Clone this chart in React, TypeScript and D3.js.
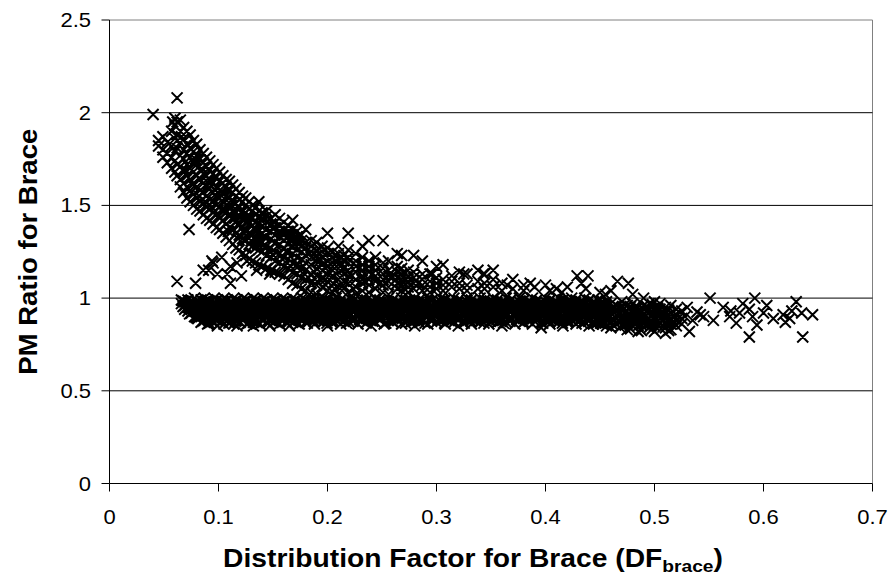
import React from 'react';
import * as d3 from 'd3';

const xTicks = [0, 0.1, 0.2, 0.3, 0.4, 0.5, 0.6, 0.7];
const yTicks = [0, 0.5, 1, 1.5, 2, 2.5];
const xTickLabels = ['0', '0.1', '0.2', '0.3', '0.4', '0.5', '0.6', '0.7'];
const yTickLabels = ['0', '0.5', '1', '1.5', '2', '2.5'];

// Upper (decaying) branch: [x, list of y values]
const upperBranch: [number, number[]][] = [
  [0.040, [1.99]],
  [0.045, [1.85, 1.82]],
  [0.049, [1.87, 1.80, 1.76]],
  [0.053, [1.84, 1.78, 1.73]],
  [0.057, [1.90, 1.82, 1.76, 1.70]],
  [0.060, [1.97, 1.93, 1.86, 1.79, 1.74, 1.68]],
  [0.062, [2.08, 1.95, 1.88, 1.81, 1.72, 1.66]],
  [0.065, [1.96, 1.90, 1.84, 1.77, 1.71, 1.64, 1.60]],
  [0.068, [1.92, 1.86, 1.80, 1.75, 1.69, 1.62, 1.57]],
  [0.071, [1.90, 1.83, 1.78, 1.72, 1.66, 1.60, 1.54]],
  [0.073, [1.37]],
  [0.074, [1.88, 1.81, 1.76, 1.70, 1.64, 1.58, 1.52]],
  [0.077, [1.85, 1.79, 1.73, 1.68, 1.62, 1.56, 1.50]],
  [0.080, [1.83, 1.77, 1.72, 1.66, 1.60, 1.54, 1.48]],
  [0.083, [1.80, 1.75, 1.69, 1.64, 1.58, 1.52, 1.47]],
  [0.086, [1.78, 1.73, 1.67, 1.62, 1.57, 1.51, 1.45]],
  [0.089, [1.76, 1.71, 1.66, 1.60, 1.55, 1.49, 1.43]],
  [0.092, [1.74, 1.69, 1.64, 1.59, 1.53, 1.48, 1.42]],
  [0.095, [1.72, 1.67, 1.62, 1.57, 1.52, 1.46, 1.40]],
  [0.098, [1.70, 1.65, 1.60, 1.55, 1.50, 1.45, 1.38]],
  [0.101, [1.68, 1.63, 1.58, 1.54, 1.49, 1.43, 1.37]],
  [0.104, [1.66, 1.62, 1.57, 1.52, 1.47, 1.42, 1.35]],
  [0.107, [1.64, 1.60, 1.55, 1.50, 1.46, 1.40, 1.33]],
  [0.110, [1.63, 1.58, 1.54, 1.49, 1.44, 1.38, 1.31]],
  [0.113, [1.61, 1.57, 1.52, 1.47, 1.43, 1.37, 1.29]],
  [0.116, [1.59, 1.55, 1.51, 1.46, 1.41, 1.35, 1.27]],
  [0.119, [1.57, 1.53, 1.49, 1.44, 1.40, 1.34, 1.26]],
  [0.122, [1.55, 1.52, 1.47, 1.43, 1.38, 1.32, 1.24]],
  [0.125, [1.54, 1.50, 1.46, 1.41, 1.37, 1.31, 1.23]],
  [0.128, [1.52, 1.48, 1.44, 1.40, 1.35, 1.29, 1.21]],
  [0.131, [1.50, 1.47, 1.43, 1.39, 1.34, 1.28, 1.20]],
  [0.134, [1.49, 1.45, 1.41, 1.37, 1.33, 1.27, 1.19]],
  [0.137, [1.52, 1.47, 1.44, 1.40, 1.36, 1.31, 1.26, 1.18]],
  [0.140, [1.46, 1.43, 1.39, 1.35, 1.30, 1.25, 1.17]],
  [0.144, [1.47, 1.44, 1.41, 1.37, 1.33, 1.28, 1.23, 1.16]],
  [0.148, [1.43, 1.40, 1.36, 1.32, 1.27, 1.22, 1.15]],
  [0.152, [1.45, 1.41, 1.38, 1.34, 1.30, 1.25, 1.20, 1.14]],
  [0.156, [1.43, 1.39, 1.36, 1.33, 1.29, 1.24, 1.19, 1.13]],
  [0.160, [1.41, 1.37, 1.34, 1.31, 1.27, 1.22, 1.17, 1.12]],
  [0.164, [1.39, 1.36, 1.33, 1.29, 1.25, 1.21, 1.16, 1.10]],
  [0.168, [1.42, 1.37, 1.34, 1.31, 1.28, 1.24, 1.19, 1.14, 1.08]],
  [0.172, [1.36, 1.33, 1.30, 1.26, 1.22, 1.18, 1.13, 1.07]],
  [0.176, [1.34, 1.31, 1.28, 1.25, 1.21, 1.16, 1.11, 1.05]],
  [0.180, [1.37, 1.30, 1.27, 1.23, 1.19, 1.15, 1.10, 1.04]],
  [0.185, [1.31, 1.28, 1.25, 1.22, 1.18, 1.13, 1.08, 1.03]],
  [0.190, [1.30, 1.26, 1.23, 1.20, 1.16, 1.12, 1.07, 1.02]],
  [0.195, [1.28, 1.25, 1.22, 1.18, 1.15, 1.11, 1.06, 1.01]],
  [0.200, [1.35, 1.27, 1.24, 1.20, 1.17, 1.13, 1.09, 1.04]],
  [0.205, [1.25, 1.22, 1.19, 1.15, 1.12, 1.08, 1.03]],
  [0.210, [1.28, 1.24, 1.21, 1.18, 1.14, 1.10, 1.06, 1.02]],
  [0.215, [1.23, 1.20, 1.16, 1.13, 1.09, 1.05]],
  [0.219, [1.35, 1.26, 1.22, 1.19, 1.15, 1.12, 1.08, 1.03]],
  [0.226, [1.24, 1.20, 1.17, 1.14, 1.10, 1.06, 1.02]],
  [0.232, [1.28, 1.22, 1.18, 1.15, 1.12, 1.08, 1.04]],
  [0.238, [1.31, 1.20, 1.17, 1.14, 1.10, 1.07, 1.03]],
  [0.244, [1.22, 1.18, 1.15, 1.12, 1.09, 1.05]],
  [0.251, [1.31, 1.19, 1.16, 1.13, 1.10, 1.07, 1.03]],
  [0.256, [1.20, 1.15, 1.12, 1.09, 1.06, 1.02]],
  [0.264, [1.24, 1.17, 1.14, 1.11, 1.08, 1.05]],
  [0.268, [1.23, 1.16, 1.13, 1.10, 1.07, 1.04]],
  [0.274, [1.15, 1.12, 1.09, 1.06, 1.03]],
  [0.279, [1.23, 1.14, 1.11, 1.08, 1.05]],
  [0.287, [1.20, 1.13, 1.10, 1.07, 1.04]],
  [0.294, [1.13, 1.09, 1.06, 1.03]],
  [0.300, [1.17, 1.11, 1.08, 1.05]],
  [0.306, [1.18, 1.10, 1.07, 1.04]],
  [0.314, [1.12, 1.09, 1.06]],
  [0.321, [1.14, 1.08, 1.05]],
  [0.328, [1.13, 1.07, 1.04]],
  [0.338, [1.15, 1.09, 1.05]],
  [0.344, [1.13, 1.08, 1.05]],
  [0.352, [1.15, 1.10, 1.06]],
  [0.360, [1.08, 1.04]],
  [0.370, [1.10, 1.05]],
  [0.380, [1.07, 1.04]],
];

// Extra irregular points inside the upper branch
const upperExtra: [number, number][] = [
  [0.058, 1.95], [0.066, 1.87], [0.070, 1.69], [0.076, 1.61], [0.079, 1.75],
  [0.082, 1.55], [0.085, 1.70], [0.088, 1.52], [0.091, 1.62], [0.094, 1.49],
  [0.097, 1.58], [0.100, 1.44], [0.103, 1.55], [0.106, 1.48], [0.109, 1.36],
  [0.112, 1.50], [0.115, 1.43], [0.118, 1.32], [0.121, 1.46], [0.124, 1.35],
  [0.127, 1.42], [0.130, 1.31], [0.133, 1.38], [0.136, 1.29], [0.139, 1.42],
  [0.142, 1.33], [0.146, 1.26], [0.150, 1.38], [0.154, 1.28], [0.158, 1.35],
  [0.162, 1.25], [0.166, 1.31], [0.170, 1.20], [0.174, 1.29], [0.178, 1.17],
  [0.183, 1.24], [0.188, 1.14], [0.193, 1.20], [0.198, 1.10], [0.203, 1.16],
  [0.208, 1.09], [0.213, 1.18], [0.222, 1.12], [0.229, 1.16], [0.235, 1.09],
  [0.241, 1.13], [0.248, 1.08], [0.259, 1.12], [0.271, 1.10], [0.283, 1.08],
  [0.1185, 1.39], [0.1265, 1.33], [0.1345, 1.31], [0.1425, 1.27], [0.1505, 1.23],
  [0.1585, 1.21], [0.1665, 1.17], [0.1745, 1.15], [0.1825, 1.11], [0.1905, 1.09],
  [0.1985, 1.07], [0.2065, 1.05], [0.2145, 1.07], [0.2235, 1.05], [0.2315, 1.10],
];

// Scattered points between the two branches on the left
const gapPoints: [number, number][] = [
  [0.062, 1.09], [0.079, 1.08], [0.086, 1.15], [0.091, 1.15], [0.094, 1.20],
  [0.095, 1.19], [0.099, 1.13], [0.108, 1.13], [0.111, 1.17], [0.111, 1.08],
  [0.117, 1.19], [0.126, 1.20], [0.135, 1.15], [0.147, 1.13], [0.103, 1.22],
  [0.121, 1.12],
];

// Lower horizontal band: [x, list of y values]
const lowerBand: [number, number[]][] = [
  [0.066, [0.99, 0.97]],
  [0.069, [0.98, 0.96, 0.94]],
  [0.072, [0.99, 0.97, 0.95, 0.93]],
  [0.075, [0.98, 0.96, 0.94, 0.92]],
  [0.078, [1.00, 0.97, 0.95, 0.93, 0.90]],
  [0.081, [0.98, 0.96, 0.94, 0.91, 0.89]],
  [0.084, [0.99, 0.97, 0.95, 0.92, 0.90, 0.87]],
  [0.087, [1.00, 0.98, 0.96, 0.93, 0.91, 0.88]],
  [0.090, [0.99, 0.97, 0.94, 0.92, 0.89, 0.86]],
  [0.093, [0.98, 0.96, 0.95, 0.93, 0.90, 0.88]],
  [0.096, [1.00, 0.97, 0.95, 0.92, 0.90, 0.87]],
  [0.099, [0.99, 0.96, 0.94, 0.93, 0.91, 0.88, 0.85]],
  [0.102, [0.98, 0.97, 0.95, 0.92, 0.90, 0.87]],
  [0.105, [1.00, 0.98, 0.96, 0.93, 0.91, 0.89, 0.86]],
  [0.108, [0.99, 0.96, 0.94, 0.92, 0.90, 0.88]],
  [0.111, [0.98, 0.97, 0.95, 0.93, 0.91, 0.87]],
  [0.114, [1.00, 0.97, 0.95, 0.92, 0.89, 0.86]],
  [0.117, [0.99, 0.96, 0.94, 0.93, 0.90, 0.88, 0.85]],
  [0.120, [0.98, 0.97, 0.95, 0.92, 0.91, 0.87]],
  [0.123, [1.00, 0.98, 0.96, 0.94, 0.91, 0.89]],
  [0.126, [0.99, 0.96, 0.94, 0.92, 0.90, 0.86]],
  [0.129, [0.98, 0.97, 0.95, 0.93, 0.90, 0.88]],
  [0.132, [1.00, 0.97, 0.95, 0.92, 0.89, 0.87, 0.85]],
  [0.135, [0.99, 0.96, 0.94, 0.93, 0.91, 0.88]],
  [0.138, [0.98, 0.97, 0.95, 0.92, 0.90, 0.86]],
  [0.141, [1.00, 0.98, 0.96, 0.94, 0.91, 0.89]],
  [0.144, [0.99, 0.96, 0.94, 0.92, 0.90, 0.87]],
  [0.147, [0.98, 0.97, 0.95, 0.93, 0.91, 0.88, 0.85]],
  [0.150, [1.00, 0.97, 0.95, 0.92, 0.90, 0.87]],
  [0.153, [0.99, 0.96, 0.94, 0.93, 0.91, 0.88]],
  [0.156, [0.98, 0.97, 0.95, 0.92, 0.89, 0.86]],
  [0.159, [1.00, 0.98, 0.96, 0.94, 0.91, 0.89]],
  [0.162, [0.99, 0.96, 0.94, 0.92, 0.90, 0.87]],
  [0.165, [0.98, 0.97, 0.95, 0.93, 0.90, 0.88, 0.85]],
  [0.168, [1.00, 0.97, 0.95, 0.92, 0.91, 0.87]],
  [0.171, [0.99, 0.96, 0.94, 0.93, 0.90, 0.88]],
  [0.174, [0.98, 0.97, 0.95, 0.92, 0.89, 0.86]],
  [0.177, [1.00, 0.98, 0.96, 0.94, 0.91, 0.89]],
  [0.180, [0.99, 0.96, 0.94, 0.92, 0.90, 0.87]],
  [0.184, [1.00, 0.97, 0.95, 0.93, 0.90, 0.88]],
  [0.188, [0.99, 0.96, 0.94, 0.92, 0.89, 0.86]],
  [0.192, [0.98, 0.97, 0.95, 0.93, 0.91, 0.88]],
  [0.196, [1.00, 0.97, 0.94, 0.92, 0.90, 0.87]],
  [0.200, [0.99, 0.96, 0.95, 0.93, 0.90, 0.88, 0.85]],
  [0.204, [0.98, 0.97, 0.94, 0.92, 0.91, 0.87]],
  [0.208, [1.00, 0.98, 0.95, 0.93, 0.90, 0.88]],
  [0.212, [0.99, 0.96, 0.94, 0.92, 0.89, 0.86]],
  [0.216, [0.98, 0.97, 0.95, 0.93, 0.91, 0.88]],
  [0.220, [1.00, 0.97, 0.95, 0.92, 0.90, 0.87]],
  [0.224, [0.99, 0.96, 0.94, 0.93, 0.90, 0.88]],
  [0.228, [0.98, 0.97, 0.95, 0.92, 0.91, 0.86]],
  [0.232, [1.00, 0.98, 0.96, 0.93, 0.90, 0.88]],
  [0.236, [0.99, 0.96, 0.94, 0.92, 0.89, 0.87]],
  [0.240, [0.98, 0.97, 0.95, 0.93, 0.91, 0.88, 0.85]],
  [0.244, [1.00, 0.97, 0.94, 0.92, 0.90, 0.87]],
  [0.248, [0.99, 0.96, 0.95, 0.93, 0.90, 0.88]],
  [0.252, [0.98, 0.97, 0.94, 0.92, 0.91, 0.86]],
  [0.256, [1.00, 0.98, 0.95, 0.93, 0.90, 0.88]],
  [0.260, [0.99, 0.96, 0.94, 0.92, 0.89, 0.87]],
  [0.264, [0.98, 0.97, 0.95, 0.93, 0.91, 0.88]],
  [0.268, [1.00, 0.97, 0.95, 0.92, 0.90, 0.86]],
  [0.272, [0.99, 0.96, 0.94, 0.93, 0.90, 0.88]],
  [0.276, [0.98, 0.97, 0.95, 0.92, 0.91, 0.87]],
  [0.280, [1.00, 0.98, 0.96, 0.93, 0.90, 0.88, 0.85]],
  [0.284, [0.99, 0.96, 0.94, 0.92, 0.89, 0.87]],
  [0.288, [0.98, 0.97, 0.95, 0.93, 0.91, 0.88]],
  [0.292, [1.00, 0.97, 0.94, 0.92, 0.90, 0.86]],
  [0.296, [0.99, 0.96, 0.95, 0.93, 0.90, 0.88]],
  [0.300, [0.98, 0.97, 0.94, 0.92, 0.91, 0.87]],
  [0.304, [1.00, 0.98, 0.95, 0.93, 0.90, 0.88]],
  [0.308, [0.99, 0.96, 0.94, 0.92, 0.89, 0.86]],
  [0.312, [0.98, 0.97, 0.95, 0.93, 0.91, 0.88]],
  [0.316, [1.00, 0.97, 0.95, 0.92, 0.90, 0.87]],
  [0.320, [0.99, 0.96, 0.94, 0.93, 0.90, 0.88, 0.85]],
  [0.324, [0.98, 0.97, 0.95, 0.92, 0.91, 0.87]],
  [0.328, [1.00, 0.98, 0.96, 0.93, 0.90, 0.88]],
  [0.332, [0.99, 0.96, 0.94, 0.92, 0.89, 0.86]],
  [0.336, [0.98, 0.97, 0.95, 0.93, 0.91, 0.88]],
  [0.340, [1.00, 0.97, 0.94, 0.92, 0.90, 0.87]],
  [0.344, [0.99, 0.96, 0.95, 0.93, 0.90, 0.88]],
  [0.348, [0.98, 0.97, 0.94, 0.92, 0.91, 0.86]],
  [0.352, [1.00, 0.98, 0.95, 0.93, 0.90, 0.88]],
  [0.356, [0.99, 0.96, 0.94, 0.92, 0.89, 0.87]],
  [0.360, [0.98, 0.97, 0.95, 0.93, 0.91, 0.88, 0.85]],
  [0.364, [1.00, 0.97, 0.95, 0.92, 0.90, 0.87]],
  [0.368, [0.99, 0.96, 0.94, 0.93, 0.90, 0.88]],
  [0.372, [0.98, 0.97, 0.95, 0.92, 0.91, 0.86]],
  [0.376, [1.00, 0.98, 0.96, 0.93, 0.90, 0.88]],
  [0.380, [0.99, 0.96, 0.94, 0.92, 0.89, 0.87]],
  [0.384, [0.98, 0.97, 0.95, 0.93, 0.91, 0.88]],
  [0.388, [1.00, 0.97, 0.94, 0.92, 0.90, 0.86]],
  [0.392, [0.99, 0.96, 0.95, 0.93, 0.90, 0.88]],
  [0.396, [0.98, 0.97, 0.94, 0.92, 0.91, 0.87, 0.84]],
  [0.400, [1.00, 0.98, 0.95, 0.93, 0.90, 0.88]],
  [0.404, [0.99, 0.96, 0.94, 0.92, 0.89, 0.86]],
  [0.408, [0.98, 0.97, 0.95, 0.93, 0.91, 0.88]],
  [0.412, [1.00, 0.97, 0.95, 0.92, 0.90, 0.87]],
  [0.416, [0.99, 0.96, 0.94, 0.93, 0.90, 0.88, 0.85]],
  [0.420, [0.98, 0.97, 0.95, 0.92, 0.91, 0.87]],
  [0.424, [1.00, 0.98, 0.96, 0.93, 0.90, 0.88]],
  [0.428, [0.99, 0.96, 0.94, 0.92, 0.89, 0.86]],
  [0.432, [0.98, 0.97, 0.95, 0.93, 0.91, 0.88]],
  [0.436, [1.00, 0.97, 0.94, 0.92, 0.90, 0.87]],
  [0.440, [0.99, 0.96, 0.95, 0.93, 0.90, 0.88, 0.85]],
  [0.444, [0.98, 0.97, 0.94, 0.92, 0.91, 0.86]],
  [0.448, [0.99, 0.96, 0.94, 0.92, 0.89, 0.87]],
  [0.452, [0.97, 0.95, 0.93, 0.91, 0.88, 0.86]],
  [0.456, [0.98, 0.96, 0.93, 0.90, 0.88, 0.85]],
  [0.460, [0.97, 0.94, 0.92, 0.90, 0.87, 0.84]],
  [0.465, [0.96, 0.94, 0.91, 0.89, 0.86]],
  [0.470, [0.98, 0.95, 0.93, 0.90, 0.88, 0.85]],
  [0.475, [0.96, 0.93, 0.91, 0.88, 0.86, 0.83]],
  [0.480, [0.97, 0.94, 0.92, 0.89, 0.87]],
  [0.485, [0.95, 0.93, 0.90, 0.88, 0.85, 0.82]],
  [0.490, [0.96, 0.94, 0.91, 0.89, 0.86]],
  [0.495, [0.97, 0.94, 0.92, 0.89, 0.87, 0.84]],
  [0.500, [0.98, 0.95, 0.93, 0.90, 0.88, 0.85, 0.82]],
  [0.505, [0.97, 0.94, 0.91, 0.89, 0.86]],
  [0.510, [0.95, 0.93, 0.90, 0.87, 0.84, 0.81]],
  [0.515, [0.96, 0.92, 0.89, 0.86, 0.83]],
  [0.520, [0.94, 0.91, 0.88, 0.85]],
  [0.525, [0.93, 0.89, 0.86]],
];

// Second layer of the lower band, between the first layer's points
const lowerBandFill: [number, number[]][] = [
  [0.0675, [0.985, 0.955]],
  [0.0735, [0.975, 0.945, 0.915]],
  [0.0795, [0.985, 0.955, 0.925, 0.895]],
  [0.0855, [0.965, 0.935, 0.905, 0.875]],
  [0.0915, [0.985, 0.955, 0.925, 0.895, 0.865]],
  [0.0975, [0.975, 0.945, 0.915, 0.885]],
  [0.1035, [0.985, 0.955, 0.925, 0.895, 0.875]],
  [0.1095, [0.965, 0.935, 0.905, 0.865]],
  [0.1155, [0.985, 0.955, 0.925, 0.895, 0.875]],
  [0.1215, [0.975, 0.945, 0.915, 0.885]],
  [0.1275, [0.965, 0.935, 0.905, 0.865]],
  [0.1335, [0.985, 0.955, 0.925, 0.895, 0.875]],
  [0.1395, [0.975, 0.945, 0.915, 0.885]],
  [0.1455, [0.965, 0.935, 0.905, 0.865]],
  [0.1515, [0.985, 0.955, 0.925, 0.895, 0.875]],
  [0.1575, [0.975, 0.945, 0.915, 0.885]],
  [0.1635, [0.965, 0.935, 0.905, 0.865]],
  [0.1695, [0.985, 0.955, 0.925, 0.895, 0.875]],
  [0.1755, [0.975, 0.945, 0.915, 0.885]],
  [0.1815, [0.965, 0.935, 0.905, 0.865]],
  [0.1875, [0.985, 0.955, 0.925, 0.895, 0.875]],
  [0.1935, [0.975, 0.945, 0.915, 0.885]],
  [0.1995, [0.965, 0.935, 0.905, 0.865]],
  [0.2055, [0.985, 0.955, 0.925, 0.895, 0.875]],
  [0.2115, [0.975, 0.945, 0.915, 0.885]],
  [0.2175, [0.965, 0.935, 0.905, 0.865]],
  [0.2235, [0.985, 0.955, 0.925, 0.895, 0.875]],
  [0.2295, [0.975, 0.945, 0.915, 0.885]],
  [0.2355, [0.965, 0.935, 0.905, 0.865]],
  [0.2415, [0.985, 0.955, 0.925, 0.895, 0.875]],
  [0.2475, [0.975, 0.945, 0.915, 0.885]],
  [0.2535, [0.965, 0.935, 0.905, 0.865]],
  [0.2595, [0.985, 0.955, 0.925, 0.895, 0.875]],
  [0.2655, [0.975, 0.945, 0.915, 0.885]],
  [0.2715, [0.965, 0.935, 0.905, 0.865]],
  [0.2775, [0.985, 0.955, 0.925, 0.895, 0.875]],
  [0.2835, [0.975, 0.945, 0.915, 0.885]],
  [0.2895, [0.965, 0.935, 0.905, 0.865]],
  [0.2955, [0.985, 0.955, 0.925, 0.895, 0.875]],
  [0.3015, [0.975, 0.945, 0.915, 0.885]],
  [0.3075, [0.965, 0.935, 0.905, 0.865]],
  [0.3135, [0.985, 0.955, 0.925, 0.895, 0.875]],
  [0.3195, [0.975, 0.945, 0.915, 0.885]],
  [0.3255, [0.965, 0.935, 0.905, 0.865]],
  [0.3315, [0.985, 0.955, 0.925, 0.895, 0.875]],
  [0.3375, [0.975, 0.945, 0.915, 0.885]],
  [0.3435, [0.965, 0.935, 0.905, 0.865]],
  [0.3495, [0.985, 0.955, 0.925, 0.895, 0.875]],
  [0.3555, [0.975, 0.945, 0.915, 0.885]],
  [0.3615, [0.965, 0.935, 0.905, 0.865]],
  [0.3675, [0.985, 0.955, 0.925, 0.895, 0.875]],
  [0.3735, [0.975, 0.945, 0.915, 0.885]],
  [0.3795, [0.965, 0.935, 0.905, 0.865]],
  [0.3855, [0.985, 0.955, 0.925, 0.895, 0.875]],
  [0.3915, [0.975, 0.945, 0.915, 0.885]],
  [0.3975, [0.965, 0.935, 0.905, 0.865]],
  [0.4035, [0.985, 0.955, 0.925, 0.895, 0.875]],
  [0.4095, [0.975, 0.945, 0.915, 0.885]],
  [0.4155, [0.965, 0.935, 0.905, 0.865]],
  [0.4215, [0.985, 0.955, 0.925, 0.895, 0.875]],
  [0.4275, [0.975, 0.945, 0.915, 0.885]],
  [0.4335, [0.965, 0.935, 0.905, 0.865]],
  [0.4395, [0.985, 0.955, 0.925, 0.895, 0.875]],
  [0.4455, [0.975, 0.945, 0.915, 0.885]],
  [0.4505, [0.965, 0.935, 0.905, 0.865]],
  [0.455, [0.965, 0.935, 0.895, 0.865]],
  [0.462, [0.955, 0.925, 0.885, 0.855]],
  [0.468, [0.945, 0.915, 0.875, 0.845]],
  [0.473, [0.965, 0.925, 0.895, 0.855]],
  [0.478, [0.955, 0.905, 0.865, 0.835]],
  [0.483, [0.945, 0.915, 0.875]],
  [0.488, [0.935, 0.895, 0.855, 0.825]],
  [0.493, [0.955, 0.925, 0.875]],
  [0.498, [0.965, 0.915, 0.865, 0.835]],
  [0.503, [0.945, 0.905, 0.855]],
  [0.508, [0.925, 0.885, 0.845]],
  [0.513, [0.935, 0.875, 0.825]],
  [0.518, [0.905, 0.865]],
];

// Scattered points above the band in the middle
const upperOutliers: [number, number][] = [
  [0.296, 1.13], [0.325, 1.13], [0.343, 1.13], [0.365, 1.07], [0.370, 1.10],
  [0.386, 1.08], [0.390, 1.06], [0.400, 1.07], [0.404, 1.04], [0.410, 1.05],
  [0.415, 1.03], [0.420, 1.06], [0.429, 1.12], [0.433, 1.08], [0.437, 1.05],
  [0.439, 1.12], [0.450, 1.03], [0.455, 1.02], [0.460, 1.04], [0.466, 1.09],
  [0.476, 1.08], [0.480, 1.02], [0.490, 1.00],
];

// Sparse tail on the right
const tailPoints: [number, number][] = [
  [0.528, 0.90], [0.530, 0.95], [0.532, 0.82], [0.535, 0.88], [0.539, 0.925],
  [0.542, 0.91], [0.545, 0.90], [0.551, 1.00], [0.554, 0.88], [0.563, 0.95],
  [0.569, 0.90], [0.570, 0.93], [0.575, 0.865], [0.578, 0.92], [0.581, 0.97],
  [0.587, 0.94], [0.587, 0.79], [0.590, 0.90], [0.592, 1.00], [0.594, 0.855],
  [0.600, 0.92], [0.603, 0.96], [0.609, 0.89], [0.618, 0.91], [0.620, 0.87],
  [0.624, 0.89], [0.626, 0.93], [0.630, 0.98], [0.635, 0.92], [0.636, 0.79],
  [0.645, 0.91],
];

const FONT = '"Liberation Sans", Arial, sans-serif';

export default function App() {
  const W = 894;
  const H = 581;
  const x = d3.scaleLinear().domain([0, 0.7]).range([109.5, 872.5]);
  const y = d3.scaleLinear().domain([0, 2.5]).range([483.5, 20]);

  const points: [number, number][] = [];
  for (const [cx, ys] of upperBranch) for (const v of ys) points.push([cx, v]);
  for (const p of upperExtra) points.push(p);
  for (const p of gapPoints) points.push(p);
  for (const [cx, ys] of lowerBand) for (const v of ys) points.push([cx, v]);
  for (const [cx, ys] of lowerBandFill) for (const v of ys) points.push([cx, v]);
  for (const p of upperOutliers) points.push(p);
  for (const p of tailPoints) points.push(p);

  const s = 5.5;
  const markerPath = points
    .map(([a, b]) => {
      const px = x(a);
      const py = y(b);
      return `M${px - s},${py - s}L${px + s},${py + s}M${px - s},${py + s}L${px + s},${py - s}`;
    })
    .join('');

  const [x0, x1] = x.range();
  const [y0, y1] = y.range();

  return (
    <svg width={W} height={H} style={{ position: 'absolute', left: 0, top: 0, background: '#fff' }}>
      <rect x={0} y={0} width={W} height={H} fill="#fff" />
      <line x1={x0} x2={x1} y1={y1} y2={y1} stroke="#808080" strokeWidth={1} />
      <line x1={x1} x2={x1} y1={y1} y2={y0} stroke="#808080" strokeWidth={1} />
      {yTicks.filter((t) => t > 0 && t < 2.5).map((t) => (
        <line key={t} x1={x0} x2={x1} y1={y(t)} y2={y(t)} stroke="#000" strokeWidth={1} />
      ))}
      <path d={markerPath} stroke="#000" strokeWidth={2} fill="none" />
      <line x1={x0} x2={x0} y1={y1} y2={y0} stroke="#000" strokeWidth={1} />
      <line x1={x0} x2={x1} y1={y0} y2={y0} stroke="#000" strokeWidth={1} />
      {yTicks.map((t, i) => (
        <g key={'yt' + t}>
          <line x1={x0 - 8} x2={x0} y1={y(t)} y2={y(t)} stroke="#000" strokeWidth={1} />
          <text
            transform={`translate(91,${y(t) + 7}) scale(1.1,1)`}
            textAnchor="end"
            fontFamily={FONT}
            fontSize={20}
            fill="#000"
          >
            {yTickLabels[i]}
          </text>
        </g>
      ))}
      {xTicks.map((t, i) => (
        <g key={'xt' + t}>
          <line x1={x(t)} x2={x(t)} y1={y0} y2={y0 + 8} stroke="#000" strokeWidth={1} />
          <text
            transform={`translate(${x(t)},524) scale(1.1,1)`}
            textAnchor="middle"
            fontFamily={FONT}
            fontSize={20}
            fill="#000"
          >
            {xTickLabels[i]}
          </text>
        </g>
      ))}
      <text
        transform={`translate(37,${(y0 + y1) / 2}) rotate(-90) scale(1.1,1)`}
        textAnchor="middle"
        fontFamily={FONT}
        fontSize={25}
        fontWeight="bold"
        fill="#000"
      >
        PM Ratio for Brace
      </text>
      <text
        transform={`translate(473,567) scale(1.13,1)`}
        textAnchor="middle"
        fontFamily={FONT}
        fontSize={25}
        fontWeight="bold"
        fill="#000"
      >
        <tspan>Distribution Factor for Brace (DF</tspan>
        <tspan fontSize={17} dy={5}>brace</tspan>
        <tspan dy={-5}>)</tspan>
      </text>
    </svg>
  );
}
